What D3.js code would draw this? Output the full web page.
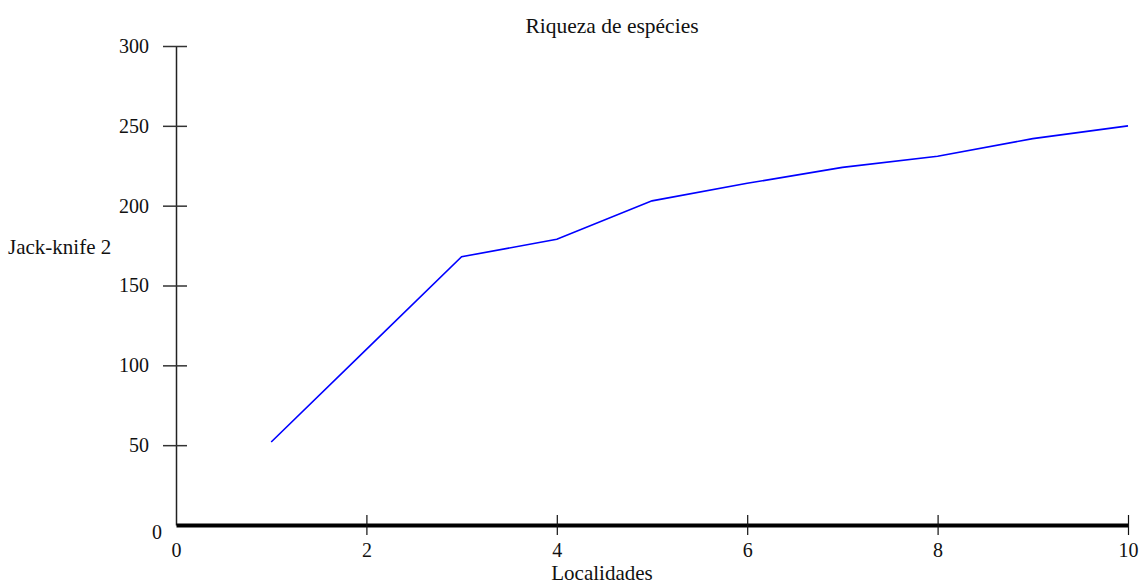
<!DOCTYPE html>
<html>
<head>
<meta charset="utf-8">
<script src="https://cdn.jsdelivr.net/npm/d3@7"></script>
<style>
	body { margin: 0; background: #fff; }
	text { font-family: "Liberation Serif", "Times New Roman", serif; }
</style>
</head>
<body>
<svg id="chart" width="1146" height="585"></svg>
<script>
const localidades = [1, 2, 3, 4, 5, 6, 7, 8, 9, 10];
const jackknife2 = [52, 110, 168, 179, 203, 214, 224, 231, 242, 250];
const x_ticks = [0, 2, 4, 6, 8, 10];
const y_ticks = [0, 50, 100, 150, 200, 250, 300];

const svg = d3.select("#chart");

const x = d3.scaleLinear().domain([0, 10]).range([176, 1128]);
const y = d3.scaleLinear().domain([0, 300]).range([525, 46]);

// title
svg.append("text")
	.attr("x", 612)
	.attr("y", 33)
	.attr("text-anchor", "middle")
	.attr("font-size", 21.5)
	.attr("fill", "#111")
	.text("Riqueza de espécies");

// y axis
const y_axis = svg.append("g")
	.attr("transform", `translate(${x(0)},0)`)
	.call(d3.axisLeft(y).tickValues(y_ticks).tickSize(0).tickPadding(27));
y_axis.select(".domain").attr("stroke", "#222").attr("stroke-width", 1.5);
y_axis.selectAll("text").attr("font-size", 20).attr("fill", "#111");
y_axis.selectAll(".tick")
	.filter((d) => d > 0)
	.append("line")
	.attr("x1", -13).attr("x2", 11)
	.attr("stroke", "#333").attr("stroke-width", 1.5);
y_axis.selectAll(".tick").filter((d) => d === 0).select("text")
	.attr("x", -14)
	.attr("dy", "0.65em");

// x axis
const x_axis = svg.append("g")
	.attr("transform", `translate(0,${y(0)})`)
	.call(d3.axisBottom(x).tickValues(x_ticks).tickSize(0).tickPadding(18));
x_axis.select(".domain").attr("stroke", "#000").attr("stroke-width", 4);
x_axis.selectAll("text").attr("font-size", 20).attr("fill", "#111");
x_axis.selectAll(".tick")
	.filter((d) => d > 0)
	.append("line")
	.attr("y1", -10).attr("y2", 10)
	.attr("stroke", "#111").attr("stroke-width", 1.2);

// axis labels
svg.append("text")
	.attr("x", 602)
	.attr("y", 580)
	.attr("text-anchor", "middle")
	.attr("font-size", 21)
	.attr("fill", "#111")
	.text("Localidades");

svg.append("text")
	.attr("x", 8)
	.attr("y", 254)
	.attr("font-size", 21)
	.attr("fill", "#111")
	.text("Jack-knife 2");

// line
const line = d3.line()
	.x((d, i) => x(localidades[i]))
	.y((d) => y(d));

svg.append("path")
	.datum(jackknife2)
	.attr("fill", "none")
	.attr("stroke", "#0000ff")
	.attr("stroke-width", 1.6)
	.attr("d", line);
</script>
</body>
</html>
